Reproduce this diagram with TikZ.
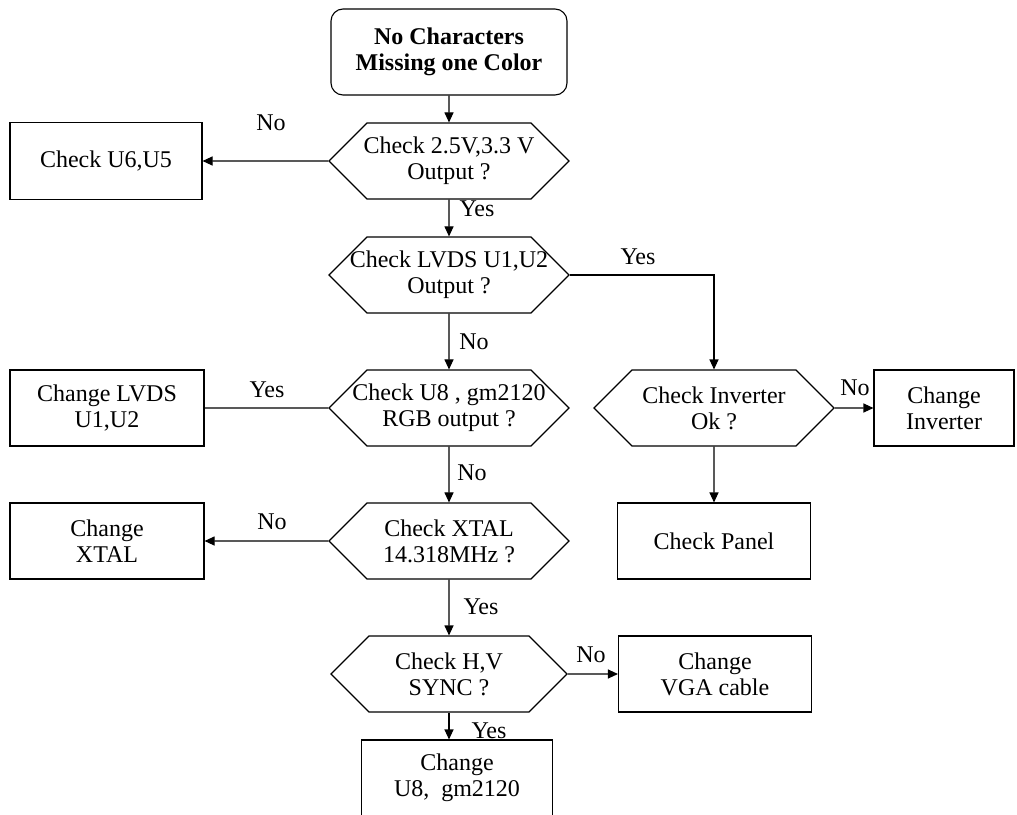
\documentclass[tikz,border=0pt]{standalone}
\usepackage{fontspec}
\setmainfont{Liberation Serif}
\usetikzlibrary{arrows.meta, shapes.symbols}

\begin{document}
\begin{tikzpicture}[x=1pt, y=-1pt, line width=1.1pt,
    font=\fontsize{24}{26}\selectfont,
    box/.style={draw, rectangle, align=center, minimum height=76pt, inner sep=0pt},
    hexq/.style={draw, signal, signal to=west and east, signal pointer angle=90,
      minimum width=240pt, minimum height=76pt, inner xsep=-20pt, inner ysep=0pt,
      align=center},
    flow/.style={-{Triangle[length=10pt, width=9pt]}}]
  \useasboundingbox (0,0) rectangle (1017,814);
  % inicio
  \node[box, rounded corners=12pt, minimum width=236pt, minimum height=86pt,
    font=\fontsize{24}{26}\selectfont\bfseries] (start) at (449,52)
    {No Characters\\Missing one Color};
  % coluna central
  \node[hexq] (qvolt) at (449,161) {Check 2.5V,3.3 V\\Output ?};
  \node[hexq] (qlvds) at (449,275) {Check LVDS U1,U2\\Output ?};
  \node[hexq] (qrgb) at (449,408) {Check U8 , gm2120\\RGB output ?};
  \node[hexq] (qxtal) at (449,541) {Check XTAL\\14.318MHz ?};
  \node[hexq, minimum width=236pt] (qsync) at (449,674) {Check H,V\\SYNC ?};
  % caixas da esquerda
  \node[box, minimum width=192pt, minimum height=77pt] (chkU6) at (106,161) {Check U6,U5};
  \node[box, minimum width=194pt] (chgLVDS) at (107,408) {Change LVDS\\U1,U2};
  \node[box, minimum width=194pt] (chgXTAL) at (107,541) {Change\\XTAL};
  % lado direito
  \node[hexq] (qinv) at (714,408) {Check Inverter\\Ok ?};
  \node[box, minimum width=140pt] (chgInv) at (944,408) {Change\\Inverter};
  \node[box, minimum width=193pt] (chkPanel) at (714,541) {Check Panel};
  \node[box, minimum width=193pt] (chgVGA) at (715,674) {Change\\VGA cable};
  \node[box, minimum width=191pt] (chgU8) at (457,778) {Change\\U8,\ \ gm2120};
  % ligacoes
  \draw[flow] (start) -- (qvolt);
  \draw[flow] (qvolt) -- (chkU6);
  \draw[flow] (qvolt) -- (qlvds);
  \draw[flow] (qlvds.east) -| (qinv.north);
  \draw[flow] (qlvds) -- (qrgb);
  \draw (qrgb) -- (chgLVDS);
  \draw[flow] (qinv) -- (chgInv);
  \draw[flow] (qinv) -- (chkPanel);
  \draw[flow] (qrgb) -- (qxtal);
  \draw[flow] (qxtal) -- (chgXTAL);
  \draw[flow] (qxtal) -- (qsync);
  \draw[flow] (qsync) -- (chgVGA);
  \draw[flow] (qsync.south) -- (qsync.south |- chgU8.north);
  % rotulos
  \node (no1) at (271,123) {No};
  \node (yes1) at (477,209) {Yes};
  \node (yes2) at (638,257) {Yes};
  \node (no2) at (474,342) {No};
  \node (yes3) at (267,390) {Yes};
  \node (no3) at (472,473) {No};
  \node (no4) at (855,388) {No};
  \node (no5) at (272,522) {No};
  \node (yes4) at (481,607) {Yes};
  \node (no6) at (591,655) {No};
  \node (yes5) at (489,731) {Yes};
\end{tikzpicture}
\end{document}
